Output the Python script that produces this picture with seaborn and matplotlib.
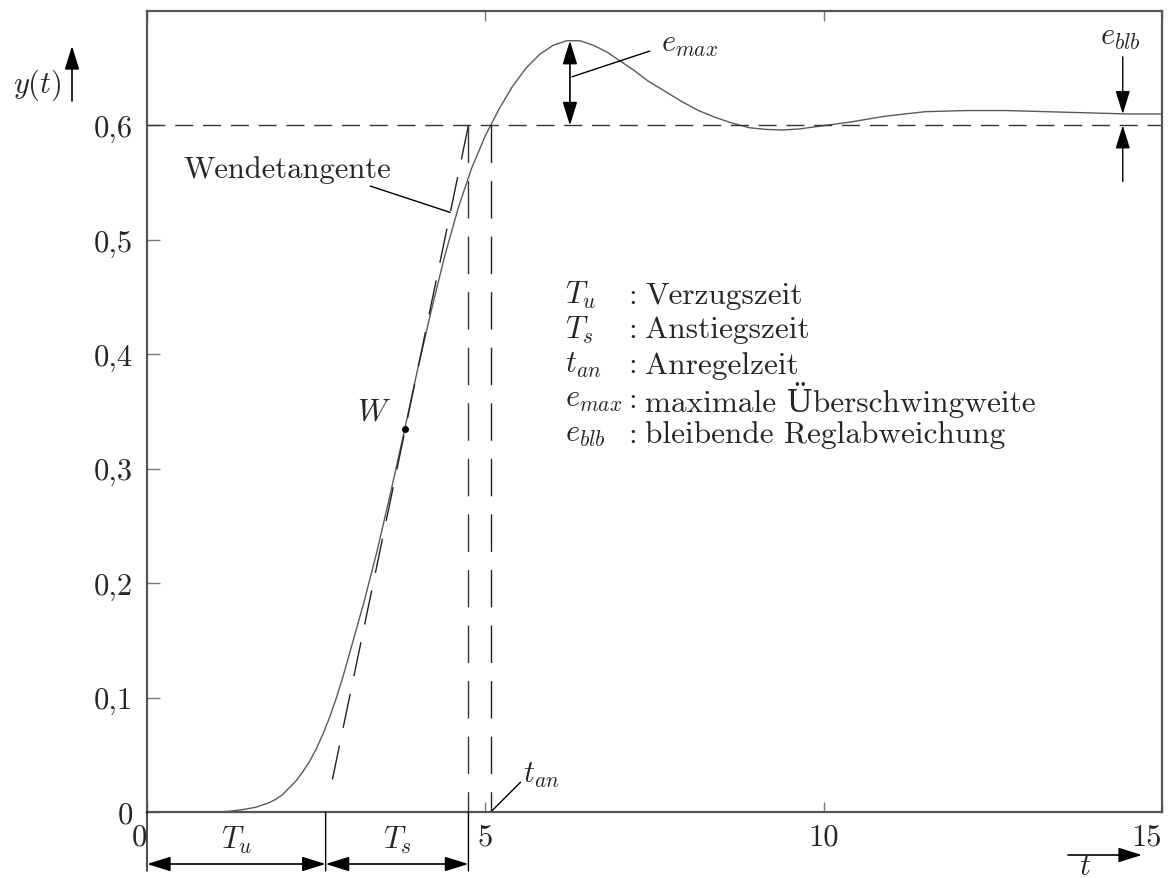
import numpy as np
import pandas as pd
import matplotlib
matplotlib.use("Agg")
import matplotlib.pyplot as plt
from matplotlib.patches import ArrowStyle, FancyArrowPatch
import seaborn as sns

# Step response y(t) of the control loop
t_vals = [0.0, 1.0, 1.2, 1.4, 1.6, 1.8, 1.9, 2.0, 2.1, 2.2, 2.3, 2.4, 2.5, 2.6,
          2.7, 2.8, 2.9, 3.0, 3.2, 3.4, 3.6, 3.81, 4.0, 4.2, 4.4, 4.6, 4.8, 5.0,
          5.2, 5.4, 5.6, 5.8, 6.0, 6.2, 6.4, 6.6, 6.8, 7.0, 7.2, 7.4, 7.65, 7.9,
          8.15, 8.4, 8.65, 8.9, 9.15, 9.4, 9.65, 9.9, 10.4, 10.9, 11.5, 12.1,
          12.7, 13.3, 13.9, 14.5, 15.0]
y_vals = [0.0, 0.0, 0.0005, 0.002, 0.004, 0.008, 0.011, 0.015, 0.021, 0.027,
          0.035, 0.044, 0.055, 0.068, 0.083, 0.100, 0.119, 0.140, 0.182, 0.228,
          0.279, 0.335, 0.387, 0.438, 0.486, 0.528, 0.563, 0.591, 0.614, 0.634,
          0.650, 0.662, 0.670, 0.674, 0.674, 0.670, 0.664, 0.656, 0.648, 0.639,
          0.630, 0.621, 0.613, 0.607, 0.602, 0.598, 0.5965, 0.596, 0.597, 0.599,
          0.603, 0.608, 0.612, 0.613, 0.613, 0.612, 0.611, 0.610, 0.610]

# Characteristic values
setpoint = 0.6
Tu = 2.64            # delay time (tangent meets y = 0)
T_end = 4.75         # tangent meets setpoint, Tu + Ts
t_an = 5.08          # rise time (curve first reaches setpoint)
W = (3.81, 0.335)    # inflection point
peak = (6.25, 0.674)  # overshoot maximum
y_end = 0.610        # final value
t_blb = 14.42

x_ticks = [0, 5, 10, 15]
y_ticks = [0.0, 0.1, 0.2, 0.3, 0.4, 0.5, 0.6]
y_tick_labels = ["0", "0,1", "0,2", "0,3", "0,4", "0,5", "0,6"]

legend_symbols = [r"$T_u$", r"$T_s$", r"$t_{an}$", r"$e_{max}$", r"$e_{blb}$"]
legend_texts = ["Verzugszeit", "Anstiegszeit", "Anregelzeit",
                "maximale Überschwingweite", "bleibende Reglabweichung"]

sns.set_theme(style="white")
plt.rcParams["font.family"] = ["cmr10", "DejaVu Serif"]
plt.rcParams["mathtext.fontset"] = "cm"
plt.rcParams["axes.formatter.use_mathtext"] = True
plt.rcParams["axes.unicode_minus"] = False

W_PX, H_PX = 1169, 879
fig = plt.figure(figsize=(W_PX / 100, H_PX / 100), dpi=100)
ax = fig.add_axes([147 / W_PX, (H_PX - 813) / H_PX, (1162 - 147) / W_PX, (813 - 12) / H_PX])

df = pd.DataFrame({"t": t_vals, "y": y_vals})
sns.lineplot(data=df, x="t", y="y", ax=ax, color="#5a5a5a", lw=1.0)

FS = 22
ax.set_xlim(0, 15)
ax.set_ylim(0, 0.7)
ax.set_xlabel("")
ax.set_ylabel("")
ax.set_xticks(x_ticks)
ax.set_xticklabels([str(v) for v in x_ticks], fontsize=FS)
ax.set_yticks(y_ticks)
ax.set_yticklabels(y_tick_labels, fontsize=FS)
ax.tick_params(axis="x", direction="in", length=7, width=1.0, color="#777777",
               top=True, bottom=True, pad=8)
ax.tick_params(axis="y", direction="in", length=9, width=1.0, color="#777777",
               left=True, right=False, pad=10)
xl = ax.get_xticklabels()
xl[0].set_ha("right")
xl[-1].set_ha("right")
for s in ax.spines.values():
    s.set_color("#555555")
    s.set_linewidth(1.6)

# Setpoint line
ax.axhline(setpoint, color="#333333", lw=1.0, dashes=(13, 7))

# Inflection tangent, dashed from the setpoint downwards
ax.plot([T_end, Tu + (T_end - Tu) * 0.04], [setpoint, setpoint * 0.04],
        color="#222222", lw=1.0, dashes=(25, 13))

# Vertical markers at Tu+Ts and t_an
ax.plot([T_end, T_end], [setpoint, 0], color="#333333", lw=1.0, dashes=(27, 13))
ax.plot([t_an, t_an], [setpoint, 0], color="#222222", lw=1.0, dashes=(27, 13))

# Inflection point
ax.plot([W[0]], [W[1]], "o", color="black", ms=4)
ax.text(W[0] - 0.45, W[1] + 0.015, r"$W$", fontsize=FS, ha="center", va="center")

arrow2 = ArrowStyle("<|-|>", head_length=0.9, head_width=0.28)
arrow1 = ArrowStyle("-|>", head_length=0.9, head_width=0.28)

# Overshoot
ax.annotate("", xy=(peak[0], peak[1]), xytext=(peak[0], setpoint),
            arrowprops=dict(arrowstyle=arrow2, color="black", lw=1.2,
                            shrinkA=0, shrinkB=0, mutation_scale=16))
ax.plot([6.28, 7.43], [0.6425, 0.665], color="black", lw=1.0)
ax.text(7.6, 0.671, r"$e_{max}$", fontsize=FS, ha="left", va="center")

# Steady-state error
ax.annotate("", xy=(t_blb, y_end), xytext=(t_blb, 0.66),
            arrowprops=dict(arrowstyle=arrow1, color="black", lw=1.0,
                            shrinkA=0, shrinkB=0, mutation_scale=16))
ax.annotate("", xy=(t_blb, setpoint), xytext=(t_blb, 0.551),
            arrowprops=dict(arrowstyle=arrow1, color="black", lw=1.0,
                            shrinkA=0, shrinkB=0, mutation_scale=16))
ax.text(t_blb - 0.04, 0.677, r"$e_{blb}$", fontsize=FS, ha="center", va="center")

# Tangent label
ax.text(2.07, 0.562, "Wendetangente", fontsize=FS, ha="center", va="center")
ax.plot([3.30, 4.48], [0.547, 0.524], color="black", lw=1.0)

# Rise time label
ax.plot([t_an, 5.52], [0.0, 0.026], color="black", lw=1.0)
ax.text(5.55, 0.033, r"$t_{an}$", fontsize=FS, ha="left", va="center")

# Legend of symbols
row_y = [0.452, 0.422, 0.391, 0.361, 0.330]
x_sym = (565 - 147) / 1015
x_col = (628 - 147) / 1015
x_txt = (645 - 147) / 1015
for sym, txt, yy in zip(legend_symbols, legend_texts, row_y):
    ax.text(x_sym, yy / 0.7, sym, fontsize=FS, ha="left", va="center", transform=ax.transAxes)
    ax.text(x_col, yy / 0.7, ":", fontsize=FS, ha="left", va="center", transform=ax.transAxes)
    ax.text(x_txt, yy / 0.7, txt, fontsize=FS + 0.5, ha="left", va="center",
            transform=ax.transAxes)

# Time intervals below the axis
fy = lambda px: H_PX - px
for xv in [0, Tu, T_end]:
    ax.annotate("", xy=(xv, fy(872)), xytext=(xv, 0), xycoords=("data", "figure pixels"),
                textcoords="data",
                arrowprops=dict(arrowstyle="-", color="black", lw=1.0,
                                shrinkA=0, shrinkB=0), annotation_clip=False)
for a, b, lab in [(0, Tu, r"$T_u$"), (Tu, T_end, r"$T_s$")]:
    ax.annotate("", xy=(b, fy(865)), xytext=(a, fy(865)),
                xycoords=("data", "figure pixels"), textcoords=("data", "figure pixels"),
                arrowprops=dict(arrowstyle=arrow2, color="black", lw=1.2,
                                shrinkA=0, shrinkB=0, mutation_scale=16),
                annotation_clip=False)
    ax.annotate(lab, xy=((a + b) / 2, fy(840)), xycoords=("data", "figure pixels"),
                fontsize=FS, ha="center", va="center", annotation_clip=False)

# Axis names with arrows
fig.text(37 / W_PX, fy(85) / H_PX, r"$y(t)$", fontsize=FS, ha="center", va="center")
fig.add_artist(FancyArrowPatch(
    (72, fy(102)), (72, fy(47)), transform=None, arrowstyle=arrow1,
    mutation_scale=16, color="black", lw=1.2, shrinkA=0, shrinkB=0))
fig.add_artist(FancyArrowPatch(
    (1068, fy(856)), (1142, fy(856)), transform=None, arrowstyle=arrow1,
    mutation_scale=16, color="black", lw=1.2, shrinkA=0, shrinkB=0))
fig.text(1085 / W_PX, fy(867) / H_PX, r"$t$", fontsize=FS, ha="center", va="center")

fig.savefig("out.png", dpi=100, facecolor="white")
